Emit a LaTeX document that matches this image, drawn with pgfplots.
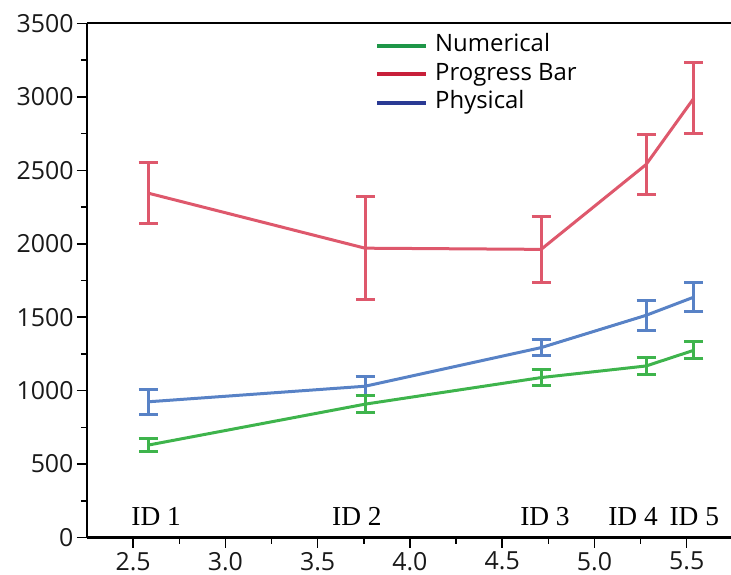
\documentclass[border=0pt]{standalone}
\usepackage{fontspec}
\setmainfont{Liberation Serif}
\setsansfont{Open Sans}
\usepackage{pgfplots}
\pgfplotsset{compat=1.18}
\definecolor{cRed}{RGB}{222,88,108}
\definecolor{cBlue}{RGB}{88,130,198}
\definecolor{cGreen}{RGB}{62,180,76}
\definecolor{lRed}{RGB}{200,32,58}
\definecolor{lBlue}{RGB}{42,58,148}
\definecolor{lGreen}{RGB}{30,150,72}
\begin{document}
\begin{tikzpicture}
\begin{axis}[
  scale only axis, width=644bp, height=514bp,
  xmin=2.25, xmax=5.74, ymin=0, ymax=3500,
  axis lines=left, axis line style={-, line width=2bp, black},
  tick align=outside,
  major tick length=10bp, minor tick length=6bp,
  every tick/.style={black, line width=1.5bp},
  xtick={2.5,3,3.5,4,4.5,5,5.5}, minor x tick num=1,
  ytick={0,500,1000,1500,2000,2500,3000,3500}, minor y tick num=1,
  xticklabel style={/pgf/number format/fixed, /pgf/number format/precision=1, /pgf/number format/fixed zerofill, yshift=-1bp},
  /pgf/number format/1000 sep={},
  /pgf/number format/assume math mode=true,
  ticklabel style={font=\sffamily\fontsize{25}{30}\selectfont, text=black!90},
  clip=false,
  legend style={at={(rel axis cs:0.4472,0.98)}, anchor=north west, draw=none, fill=none,
    font=\sffamily\fontsize{24}{28}\selectfont, inner sep=0pt, row sep=4.5bp,
    nodes={inner sep=0pt, text height=18bp, text depth=6bp},
    /tikz/every odd column/.append style={column sep=7bp}},
  legend cell align=left,
  legend image code/.code={\draw[line width=4bp] (0bp,0bp) -- (49bp,0bp);},
  error bars/y dir=both, error bars/y explicit,
  error bars/error bar style={line width=3bp},
  error bars/error mark options={rotate=90, line width=3bp, mark size=9.5bp},
]
\addlegendimage{lGreen}
\addlegendentry{Numerical}
\addlegendimage{lRed}
\addlegendentry{Progress Bar}
\addlegendimage{lBlue}
\addlegendentry{Physical}

\addplot[forget plot, cRed, line width=3bp, mark=none] coordinates {
  (2.581,2345) +- (0,209)
  (3.757,1970) +- (0,350)
  (4.711,1962) +- (0,224)
  (5.280,2540) +- (0,202)
  (5.539,2992) +- (0,244)
};
\addplot[forget plot, cBlue, line width=3bp, mark=none] coordinates {
  (2.581,924) +- (0,84)
  (3.757,1030) +- (0,64)
  (4.711,1293) +- (0,57)
  (5.280,1513) +- (0,102)
  (5.539,1637) +- (0,99)
};
\addplot[forget plot, cGreen, line width=3bp, mark=none] coordinates {
  (2.581,629) +- (0,44)
  (3.757,908) +- (0,60)
  (4.711,1089) +- (0,57)
  (5.280,1168) +- (0,60)
  (5.539,1275) +- (0,59)
};
\draw[line width=2bp] (rel axis cs:0,1) -- (rel axis cs:1,1);
\foreach \xx/\lab in {2.625/ID 1, 3.713/ID 2, 4.732/ID 3, 5.209/ID 4, 5.541/ID 5} {
  \edef\tmp{\noexpand\node[anchor=base, inner sep=0pt, font=\noexpand\fontsize{27.5}{30}\noexpand\selectfont] at (axis cs:\xx,80) {\lab};}
  \tmp
}
\coordinate (bl) at (rel axis cs:0,0);
\coordinate (tr) at (rel axis cs:1,1);
\end{axis}
\pgfresetboundingbox
\path ([xshift=-87bp,yshift=-37.5bp]bl) rectangle ([yshift=23.5bp]tr);
\end{tikzpicture}
\end{document}
